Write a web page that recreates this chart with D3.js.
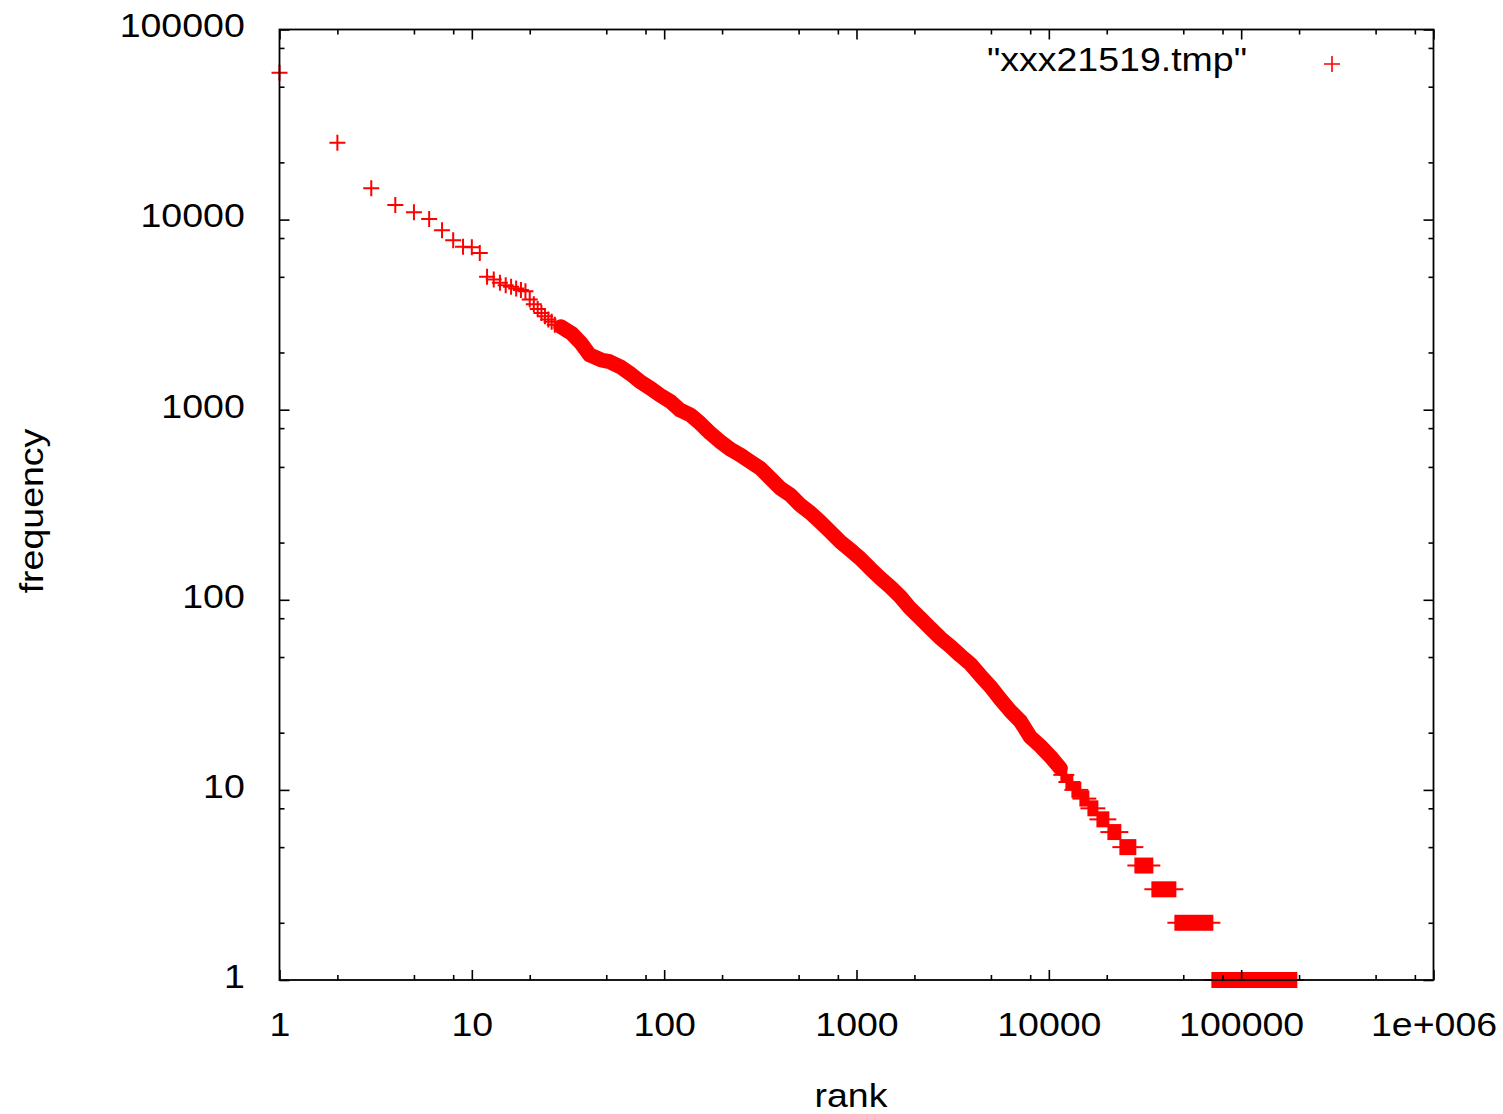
<!DOCTYPE html>
<html>
<head>
<meta charset="utf-8">
<script src="https://cdn.jsdelivr.net/npm/d3@7"></script>
<style>
body { margin: 0; background: #fff; }
text { font-family: "Liberation Sans", Arial, Helvetica, sans-serif; }
</style>
</head>
<body>
<svg id="chart"></svg>
<script>
// Top ranks, each one drawn as its own cross
const topRanks = [1, 2, 3, 4, 5, 6, 7, 8, 9, 10, 11, 12, 13, 14, 15, 16, 17, 18, 19, 20, 21, 22, 23, 24, 25, 26, 27];
const topFreqs = [59270, 25380, 14610, 11940, 10930, 10070, 8790, 7790, 7200, 7150, 6680, 5000, 4840, 4650, 4520, 4430, 4340, 4260, 4200, 3800, 3590, 3390, 3230, 3100, 2980, 2900, 2800];

// Middle part: crosses overlap into a solid band, read along its centre
const bandRanks = [29, 33, 37, 41, 47, 52, 59, 67, 75, 85, 95, 108, 121, 137, 154, 174, 196, 221, 249, 280, 316, 356, 402, 453, 510, 575, 648, 731, 824, 928, 1046, 1180, 1330, 1499, 1689, 1904, 2146, 2419, 2727, 3073, 3464, 3905, 4402, 4962, 5593, 6304, 7106, 8010, 9030, 10180, 11470];
const bandFreqs = [2733, 2523, 2235, 1940, 1826, 1789, 1684, 1541, 1404, 1296, 1195, 1102, 996, 938, 848, 751, 679, 619, 578, 533, 492, 437, 386, 356, 315, 287, 257, 228, 202, 183, 165, 146, 130, 117, 104, 90, 80, 71, 63, 57, 51, 46, 40, 35, 30, 26, 23, 19, 17, 15, 13];

// Tail: runs of ranks sharing the same (integer) frequency
const runFreqs = [12, 11, 10, 9, 8, 7, 6, 5, 4, 3, 2, 1];
const runFirst = [11620, 12340, 13260, 14590, 16060, 17890, 20400, 23550, 28180, 34540, 45490, 70840];
const runLast = [12330, 13250, 14580, 16050, 17880, 20390, 23540, 28170, 34530, 45480, 70830, 193600];

const xTicks = [1, 10, 100, 1000, 10000, 100000, 1000000];
const xTickLabels = ["1", "10", "100", "1000", "10000", "100000", "1e+006"];
const yTicks = [1, 10, 100, 1000, 10000, 100000];
const yTickLabels = ["1", "10", "100", "1000", "10000", "100000"];
const minorSteps = [2, 5, 8];
const seriesName = '"xxx21519.tmp"';

const svgWidth = 1503;
const svgHeight = 1114;
const margins = {top: 29.5, right: 69.5, bottom: 134, left: 279.5};
const red = "#ff0000";
const arm = 8;          // half size of a cross
const fontSize = 33.5;
const stretch = "scale(1.12,1)";

const scaleX = d3.scaleLog()
	.domain([1, 1e6])
	.range([margins.left, svgWidth - margins.right]);

const scaleY = d3.scaleLog()
	.domain([1, 1e5])
	.range([svgHeight - margins.bottom, margins.top]);

const chart = d3.select('#chart')
	.attr('width', svgWidth)
	.attr('height', svgHeight);

const crossPath = (x, y) => `M${x - arm},${y}h${2 * arm}M${x},${y - arm}v${2 * arm}`;

// Points
const topPoints = topRanks.map((r, i) => ({rank: r, freq: topFreqs[i]}));
chart.append("g")
	.selectAll("path")
	.data(topPoints)
	.join("path")
	.attr("d", d => crossPath(scaleX(d.rank), scaleY(d.freq)))
	.attr("stroke", red)
	.attr("stroke-width", 2)
	.attr("fill", "none");

// Dense band
const band = bandRanks.map((r, i) => ({rank: r, freq: bandFreqs[i]}));
chart.append("path")
	.datum(band)
	.attr("d", d3.line().x(d => scaleX(d.rank)).y(d => scaleY(d.freq)))
	.attr("stroke", red)
	.attr("stroke-width", 15)
	.attr("stroke-linecap", "round")
	.attr("stroke-linejoin", "round")
	.attr("fill", "none");

// Tail runs
const runs = runFreqs.map((f, i) => ({freq: f, first: runFirst[i], last: runLast[i]}));
const runG = chart.append("g");
runG.selectAll("rect")
	.data(runs)
	.join("rect")
	.attr("x", d => scaleX(d.first) - 1)
	.attr("width", d => scaleX(d.last) - scaleX(d.first) + 2)
	.attr("y", d => scaleY(d.freq) - arm)
	.attr("height", 2 * arm)
	.attr("fill", red);
runG.selectAll("line")
	.data(runs)
	.join("line")
	.attr("x1", d => scaleX(d.first) - arm)
	.attr("x2", d => scaleX(d.last) + arm)
	.attr("y1", d => scaleY(d.freq))
	.attr("y2", d => scaleY(d.freq))
	.attr("stroke", red)
	.attr("stroke-width", 2);

// Minor tick values 2, 5, 8 per decade
const minorTicks = maxExp => {
	const out = [];
	for (let k = 0; k < maxExp; k++) minorSteps.forEach(m => out.push(m * Math.pow(10, k)));
	return out;
};
const xMinor = minorTicks(6);
const yMinor = minorTicks(5);

const bottomY = svgHeight - margins.bottom;
const rightX = svgWidth - margins.right;

const styleAxis = g => {
	g.select(".domain").remove();
	g.attr("font-family", null).attr("font-size", fontSize).attr("color", "#000");
	g.selectAll(".tick line").attr("stroke-width", 1.6);
};

const addAxis = (axis, transform) => chart.append("g")
	.attr("transform", transform)
	.call(axis)
	.call(styleAxis);

// Bottom axis with labels
addAxis(d3.axisBottom(scaleX).tickValues(xTicks).tickSize(-10).tickPadding(32)
	.tickFormat(d => xTickLabels[xTicks.indexOf(d)]), `translate(0,${bottomY})`)
	.selectAll("text").attr("transform", stretch);
addAxis(d3.axisBottom(scaleX).tickValues(xMinor).tickSize(-5).tickFormat(""), `translate(0,${bottomY})`);
// Top mirror
addAxis(d3.axisTop(scaleX).tickValues(xTicks).tickSize(-10).tickFormat(""), `translate(0,${margins.top})`);
addAxis(d3.axisTop(scaleX).tickValues(xMinor).tickSize(-5).tickFormat(""), `translate(0,${margins.top})`);

// Left axis with labels
addAxis(d3.axisLeft(scaleY).tickValues(yTicks).tickSize(-10).tickPadding(31)
	.tickFormat(d => yTickLabels[yTicks.indexOf(d)]), `translate(${margins.left},0)`)
	.selectAll("text").attr("transform", stretch).attr("dy", "0.22em");
addAxis(d3.axisLeft(scaleY).tickValues(yMinor).tickSize(-5).tickFormat(""), `translate(${margins.left},0)`);
// Right mirror
addAxis(d3.axisRight(scaleY).tickValues(yTicks).tickSize(-10).tickFormat(""), `translate(${rightX},0)`);
addAxis(d3.axisRight(scaleY).tickValues(yMinor).tickSize(-5).tickFormat(""), `translate(${rightX},0)`);

// Frame
chart.append("rect")
	.attr("x", margins.left)
	.attr("y", margins.top)
	.attr("width", rightX - margins.left)
	.attr("height", bottomY - margins.top)
	.attr("fill", "none")
	.attr("stroke", "#000")
	.attr("stroke-width", 1.8);

// Axis titles
chart.append("text")
	.attr("transform", `translate(851,1107) ${stretch}`)
	.attr("text-anchor", "middle")
	.attr("font-size", fontSize)
	.attr("fill", "#000")
	.text("rank");

chart.append("text")
	.attr("transform", `translate(43,511) rotate(-90) ${stretch}`)
	.attr("text-anchor", "middle")
	.attr("font-size", fontSize)
	.attr("fill", "#000")
	.text("frequency");

// Legend
chart.append("text")
	.attr("transform", `translate(1247,71) ${stretch}`)
	.attr("text-anchor", "end")
	.attr("font-size", fontSize)
	.attr("fill", "#000")
	.text(seriesName);

chart.append("path")
	.attr("d", crossPath(1332, 64))
	.attr("stroke", red)
	.attr("stroke-width", 1.6)
	.attr("fill", "none");
</script>
</body>
</html>
